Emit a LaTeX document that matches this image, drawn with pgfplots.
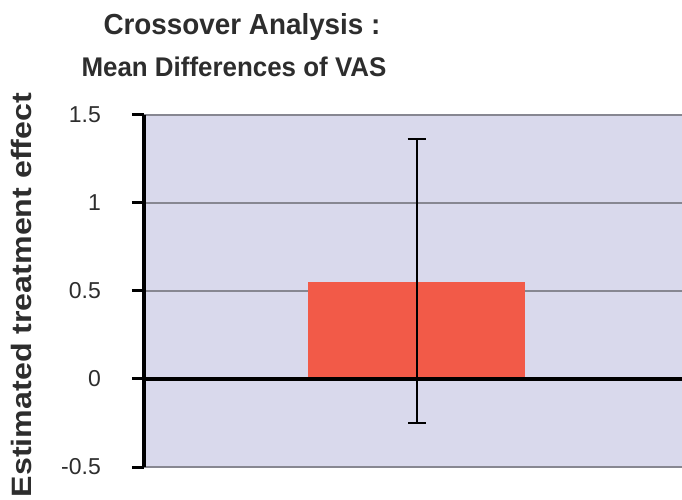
\documentclass[border=0pt]{standalone}
\usepackage{pgfplots}
\pgfplotsset{compat=1.18}
\usepackage{fontspec}
\setmainfont{Liberation Sans}
\definecolor{bgc}{RGB}{217,217,236}
\definecolor{barc}{RGB}{242,90,72}
\definecolor{txt}{RGB}{45,45,45}
\definecolor{gridc}{RGB}{135,135,145}
\begin{document}
\begin{tikzpicture}
\useasboundingbox (-144pt,-33pt) rectangle (538pt,467pt);
\begin{axis}[
  at={(0pt,0pt)}, anchor=south west,
  scale only axis, width=538pt, height=352pt,
  xmin=144, xmax=682, ymin=-0.5, ymax=1.5,
  axis x line=none, axis y line=left,
  y axis line style={-, black, line width=3.5pt},
  xtick=\empty,
  ytick={-0.5,0,0.5,1,1.5},
  yticklabels={-0.5,0,0.5,1,1.5},
  ymajorgrids, grid style={gridc, line width=1.2pt},
  axis background/.style={fill=bgc},
  tick align=outside, major tick length=12pt,
  ytick style={black, line width=3pt},
  /pgf/number format/assume math mode=true,
  yticklabel style={font=\fontsize{23}{23}\selectfont, text=txt, anchor=east, inner sep=0pt, xshift=-31pt},
  clip=false,
]
\addplot[ybar, bar width=217, fill=barc, draw=none,
  error bars/.cd, y dir=both, y explicit,
  error bar style={black, line width=2pt},
  error mark options={rotate=90, black, mark size=9pt, line width=2pt}]
  coordinates {(416.5,0.551) += (0,0.813) -= (0,0.801)};
\addplot[black, line width=3.5pt] coordinates {(144,0) (682,0)};
\end{axis}
\node[anchor=base, text=txt, font=\fontsize{29}{29}\selectfont\bfseries] at (98pt,432pt) {\scalebox{0.96}[1]{Crossover Analysis :}};
\node[anchor=base, text=txt, font=\fontsize{27}{27}\selectfont\bfseries] at (90pt,390pt) {\scalebox{0.96}[1]{Mean Differences of VAS}};
\node[anchor=base, rotate=90, text=txt, font=\fontsize{28}{28}\selectfont\bfseries] at (-112pt,172pt) {\scalebox{1.15}[1]{Estimated treatment effect}};
\end{tikzpicture}
\end{document}
